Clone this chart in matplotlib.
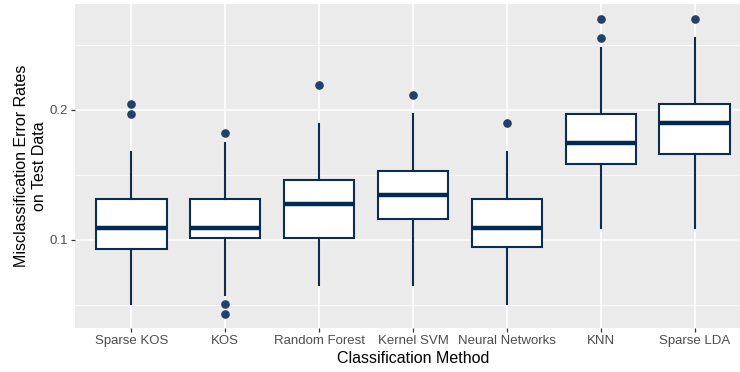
import matplotlib.pyplot as plt
import numpy as np

plt.rcParams['font.family'] = ['Liberation Sans', 'DejaVu Sans']

methods = ["Sparse KOS", "KOS", "Random Forest", "Kernel SVM",
           "Neural Networks", "KNN", "Sparse LDA"]

# five-number summaries of the error rates per method
whisker_low  = [0.0508, 0.0577, 0.0654, 0.0654, 0.0508, 0.1092, 0.1092]
q1           = [0.0928, 0.1018, 0.1018, 0.1164, 0.0946, 0.1587, 0.1659]
median       = [0.1090, 0.1090, 0.1275, 0.1349, 0.1090, 0.1749, 0.1897]
q3           = [0.1313, 0.1313, 0.1462, 0.1531, 0.1313, 0.1969, 0.2044]
whisker_high = [0.1680, 0.1749, 0.1892, 0.1967, 0.1674, 0.2479, 0.2554]
outliers     = [[0.2044, 0.1969],
                [0.1823, 0.0508, 0.0433],
                [0.2190],
                [0.2115],
                [0.1897],
                [0.2702, 0.2554],
                [0.2702]]

navy = "#0d2c4f"
dot = "#22416a"

stats = []
for i, m in enumerate(methods):
    stats.append({
        "label": m,
        "whislo": whisker_low[i],
        "q1": q1[i],
        "med": median[i],
        "q3": q3[i],
        "whishi": whisker_high[i],
        "fliers": outliers[i],
    })

fig = plt.figure(figsize=(7.4, 3.72), dpi=100)
# panel runs off the right side of the figure
ax = fig.add_axes([75/740, 44/372, 676/740, 324/372])
ax.set_facecolor("#ebebeb")

pos = np.arange(1, len(methods) + 1)
ax.bxp(stats, positions=pos, widths=0.75, patch_artist=True, showcaps=False,
       boxprops=dict(facecolor="white", alpha=1, edgecolor=navy, linewidth=1.5),
       medianprops=dict(color="#012a52", linewidth=3.2),
       whiskerprops=dict(color=navy, linewidth=1.5),
       flierprops=dict(marker="o", markersize=5.2, markerfacecolor=dot,
                       markeredgecolor=dot))
for p in ax.patches:
    p.set_facecolor((1, 1, 1, 0.88))

ax.set_xlim(0.4, len(methods) + 0.6)
ax.set_ylim(0.0323, 0.2815)
ax.set_yticks([0.1, 0.2])
ax.set_yticklabels(["0.1", "0.2"])
ax.set_yticks([0.05, 0.15, 0.25], minor=True)
ax.set_xticks(pos)
ax.set_xticklabels(methods)

ax.grid(True, which="major", color="white", linewidth=1.1)
ax.grid(True, which="minor", axis="y", color="white", linewidth=0.55)
ax.set_axisbelow(True)
for s in ax.spines.values():
    s.set_visible(False)

ax.tick_params(axis="both", which="major", length=3, width=0.9, color="#333333",
               labelsize=9.5, labelcolor="#4d4d4d", pad=2)
ax.tick_params(axis="y", which="minor", length=0)

ax.set_xlabel("Classification Method", fontsize=11.5, labelpad=3)
ax.set_ylabel("Misclassification Error Rates\non Test Data", fontsize=11.5,
              labelpad=2, linespacing=1.25)

fig.savefig("out.png", dpi=100)
